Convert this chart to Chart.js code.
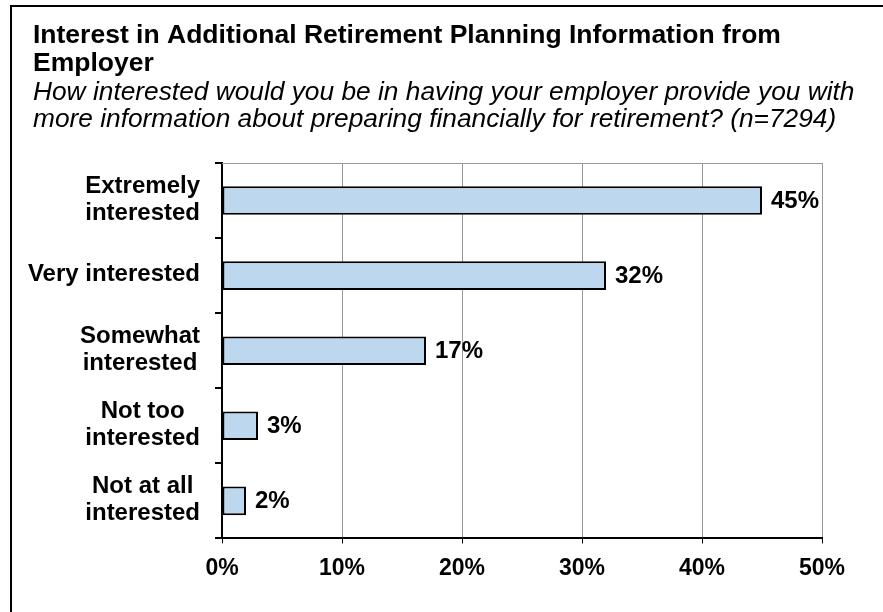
<!DOCTYPE html>
<html>
<head>
<meta charset="utf-8">
<script src="https://cdn.jsdelivr.net/npm/chart.js@4/dist/chart.umd.min.js"></script>
<style>
  html, body { margin: 0; padding: 0; background: #fff; }
  #wrap { width: 883px; height: 612px; }
</style>
</head>
<body>
<div id="wrap"><canvas id="chart" width="883" height="612"></canvas></div>
<script>
// survey answers, top to bottom
const categories = [
  ['Extremely', 'interested'],
  ['Very interested'],
  ['Somewhat', 'interested'],
  ['Not too', 'interested'],
  ['Not at all', 'interested']
];
const percentValues = [45, 32, 17, 3, 2];
const xTicks = [0, 10, 20, 30, 40, 50];

const titleLines = ['Interest in Additional Retirement Planning Information from', 'Employer'];
const subtitleLines = [
  'How interested would you be in having your employer provide you with',
  'more information about preparing financially for retirement? (n=7294)'
];

const FONT = '"Liberation Sans", Arial, Helvetica, sans-serif';

// frame, heading text and the grey top edge of the plot box
const framePlugin = {
  id: 'frame',
  beforeDraw(chart) {
    const ctx = chart.ctx;
    ctx.save();
    ctx.strokeStyle = '#000';
    ctx.lineWidth = 2;
    ctx.beginPath();
    ctx.moveTo(11, chart.height + 5);
    ctx.lineTo(11, 6);
    ctx.lineTo(chart.width + 5, 6);
    ctx.stroke();

    // the built-in title squeezes long lines to the layout width, so draw it here
    ctx.fillStyle = '#000';
    ctx.textAlign = 'left';
    ctx.textBaseline = 'alphabetic';
    ctx.font = 'bold 26.5px ' + FONT;
    titleLines.forEach((t, i) => ctx.fillText(t, 33, 42.5 + i * 28.5));
    ctx.font = 'italic 26.3px ' + FONT;
    subtitleLines.forEach((t, i) => ctx.fillText(t, 33, 99.5 + i * 27));
    ctx.restore();
  },
  beforeDatasetsDraw(chart) {
    const a = chart.chartArea;
    const ctx = chart.ctx;
    ctx.save();
    ctx.strokeStyle = '#999';
    ctx.lineWidth = 1;
    ctx.beginPath();
    ctx.moveTo(a.left, a.top + 0.5);
    ctx.lineTo(a.right, a.top + 0.5);
    ctx.stroke();
    ctx.restore();
  }
};

// category names, each block centred on itself and pushed against the axis
const catLabels = {
  id: 'catLabels',
  afterDraw(chart) {
    const ctx = chart.ctx;
    const yScale = chart.scales.y;
    const rightEdge = yScale.right - 22;
    ctx.save();
    ctx.font = 'bold 24px ' + FONT;
    ctx.fillStyle = '#000';
    ctx.textAlign = 'center';
    ctx.textBaseline = 'middle';
    categories.forEach((lines, i) => {
      const y = yScale.getPixelForTick(i);
      const w = Math.max(...lines.map(l => ctx.measureText(l).width));
      const cx = rightEdge - w / 2;
      const lh = 27;
      const y0 = y - (lines.length - 1) * lh / 2 - 1;
      lines.forEach((l, j) => ctx.fillText(l, cx, y0 + j * lh));
    });
    ctx.restore();
  }
};

// value at the end of each bar
const valueLabels = {
  id: 'valueLabels',
  afterDatasetsDraw(chart) {
    const ctx = chart.ctx;
    const meta = chart.getDatasetMeta(0);
    ctx.save();
    ctx.font = 'bold 24px ' + FONT;
    ctx.fillStyle = '#000';
    ctx.textAlign = 'left';
    ctx.textBaseline = 'middle';
    meta.data.forEach((bar, i) => {
      ctx.fillText(percentValues[i] + '%', bar.x + 9, bar.y + 1);
    });
    ctx.restore();
  }
};

new Chart(document.getElementById('chart'), {
  type: 'bar',
  data: {
    labels: categories,
    datasets: [{
      data: percentValues,
      backgroundColor: '#BDD7EE',
      borderColor: '#000',
      borderWidth: 2,
      borderSkipped: false,
      categoryPercentage: 1,
      barPercentage: 0.38
    }]
  },
  options: {
    indexAxis: 'y',
    responsive: false,
    animation: false,
    events: [],
    layout: { padding: { left: 33, right: 61, top: 163, bottom: 19 } },
    scales: {
      x: {
        min: 0,
        max: 50,
        afterBuildTicks(scale) {
          scale.ticks = xTicks.map(v => ({ value: v }));
        },
        grid: { color: '#999', lineWidth: 1, tickColor: '#000', tickLength: 5 },
        border: { color: '#000', width: 2 },
        ticks: {
          padding: 11,
          color: '#000',
          font: { family: FONT, size: 23, weight: 'bold' },
          callback: v => v + '%'
        }
      },
      y: {
        afterFit(scale) { scale.width = 189; },
        grid: { drawOnChartArea: false, color: '#000', lineWidth: 2, tickLength: 7 },
        border: { color: '#000', width: 2 },
        ticks: { display: false }
      }
    },
    plugins: {
      legend: { display: false },
      tooltip: { enabled: false },
      title: { display: false },
      subtitle: { display: false }
    }
  },
  plugins: [framePlugin, catLabels, valueLabels]
});
</script>
</body>
</html>
